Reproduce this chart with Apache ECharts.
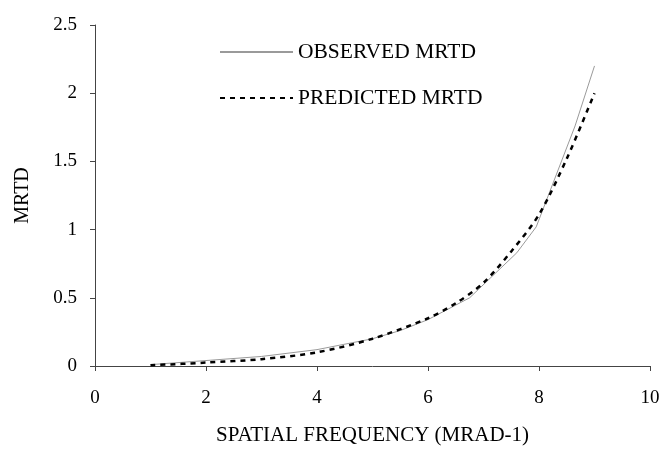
<!DOCTYPE html>
<html>
<head>
<meta charset="utf-8">
<script src="https://cdn.jsdelivr.net/npm/echarts@6/dist/echarts.min.js"></script>
<style>
html,body{margin:0;padding:0;background:#fff;}
#chart{width:664px;height:451px;}
</style>
</head>
<body>
<div id="chart"></div>
<script>
var observedX = [1, 2, 3, 4, 5, 5.5, 6, 6.75, 7.6, 7.95, 8.65, 9];
var observedY = [0.01, 0.04, 0.07, 0.12, 0.2, 0.26, 0.34, 0.5, 0.83, 1.02, 1.76, 2.2];
var predictedX = [1, 2, 3, 4, 5, 6, 6.5, 7, 7.5, 8, 8.5, 9];
var predictedY = [0.005, 0.025, 0.05, 0.10, 0.2, 0.35, 0.46, 0.61, 0.84, 1.11, 1.52, 2.0];
var seriesNames = ['OBSERVED MRTD', 'PREDICTED MRTD'];
var xTitle = 'SPATIAL FREQUENCY (MRAD-1)';
var yTitle = 'MRTD';

function pairs(xs, ys) { return xs.map(function (x, i) { return [x, ys[i]]; }); }

var font = 'Liberation Serif, Times New Roman, serif';
var chart = echarts.init(document.getElementById('chart'));
chart.setOption({
  animation: false,
  backgroundColor: '#fff',
  textStyle: { fontFamily: font, color: '#000' },
  grid: { left: 95, right: 14, top: 25, bottom: 83, containLabel: false },
  legend: {
    orient: 'vertical',
    left: 219,
    top: 41,
    padding: 0,
    itemWidth: 73,
    itemHeight: 14,
    itemGap: 24,
    itemStyle: { opacity: 0 },
    textStyle: { fontFamily: font, fontSize: 21.5, color: '#000', lineHeight: 21 },
    data: seriesNames
  },
  xAxis: {
    type: 'value',
    min: 0, max: 10, interval: 2,
    name: xTitle,
    nameLocation: 'middle',
    nameGap: 59,
    nameTextStyle: { fontFamily: font, fontSize: 21, color: '#000' },
    axisLine: { show: true, lineStyle: { color: '#444', width: 1 } },
    axisTick: { show: true, inside: false, length: 5, lineStyle: { color: '#444' } },
    axisLabel: { margin: 23, fontFamily: font, fontSize: 19, color: '#000' },
    splitLine: { show: false }
  },
  yAxis: {
    type: 'value',
    min: 0, max: 2.5, interval: 0.5,
    name: yTitle,
    nameLocation: 'middle',
    nameGap: 62,
    nameTextStyle: { fontFamily: font, fontSize: 20, color: '#000' },
    axisLine: { show: true, lineStyle: { color: '#444', width: 1 } },
    axisTick: { show: true, inside: false, length: 5, lineStyle: { color: '#444' } },
    axisLabel: { margin: 18, fontFamily: font, fontSize: 19, color: '#000' },
    splitLine: { show: false }
  },
  series: [
    {
      name: seriesNames[0],
      type: 'line',
      data: pairs(observedX, observedY),
      symbol: 'none',
      showSymbol: false,
      lineStyle: { color: '#9a9a9a', width: 1 },
      itemStyle: { color: '#9a9a9a' },
      z: 2
    },
    {
      name: seriesNames[1],
      type: 'line',
      data: pairs(predictedX, predictedY),
      symbol: 'none',
      showSymbol: false,
      smooth: 0.3,
      lineStyle: { color: '#000', width: 2.5, type: [5, 5] },
      itemStyle: { color: '#000' },
      z: 3
    }
  ]
});
</script>
</body>
</html>
